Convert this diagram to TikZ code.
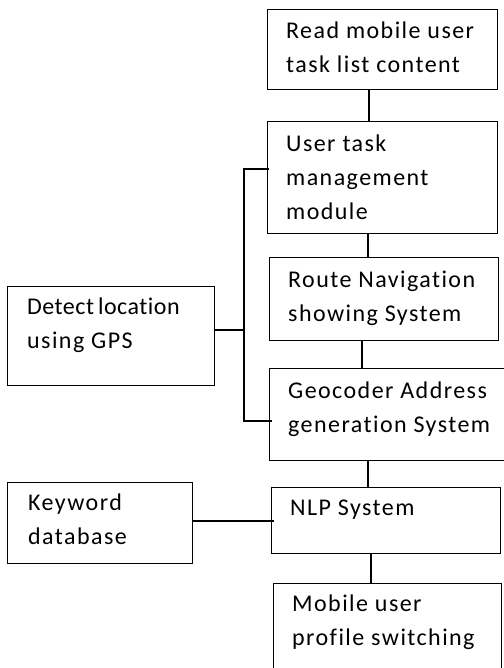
\documentclass[tikz,border=0pt]{standalone}
\usepackage{fontspec}
\setmainfont{Carlito}[LetterSpace=6,Ligatures={NoCommon}]
\usetikzlibrary{calc}
\begin{document}
\begin{tikzpicture}[x=1pt,y=-1pt,
  box/.style={draw=black,line width=1.4pt,rectangle,inner sep=0pt,anchor=north west},
  txt/.style={anchor=north west,inner sep=0pt,align=left,font=\fontsize{24}{34}\selectfont,text=black},
  link/.style={draw=black,line width=1.4pt}]
\useasboundingbox[fill=white] (0,0) rectangle (503,668);
% boxes
\node[box,minimum width=230,minimum height=80] (b1) at (267,9) {};
\node[box,minimum width=230,minimum height=112] (b2) at (267,121) {};
\node[box,minimum width=229,minimum height=83] (b3) at (269,257) {};
\node[box,minimum width=245,minimum height=92] (b4) at (269,368) {};
\node[box,minimum width=229,minimum height=66] (b5) at (271,487) {};
\node[box,minimum width=228,minimum height=100] (b6) at (273,583) {};
\node[box,minimum width=207,minimum height=99] (gps) at (7,286) {};
\node[box,minimum width=185,minimum height=81] (kw) at (7,482) {};
% texts
\node[txt] (t1) at (286,15) {\strut Read mobile user\\task list content};
\node[txt] (t2) at (286,127) {\strut User task\\management\\module};
\node[txt] (t3) at (288,263) {\strut Route Navigation\\showing System};
\node[txt] (t4) at (288,374) {\strut Geocoder Address\\generation System};
\node[txt] (t5) at (290,491) {\strut NLP System};
\node[txt] (t6) at (292,587) {\strut Mobile user\\profile switching};
\node[txt] (tg) at (27,290) {\strut{\addfontfeature{LetterSpace=2}Detect\,location}\\using GPS};
\node[txt] (tk) at (28,486) {\strut Keyword\\database};
% vertical chain
\draw[link] ($(b1.south west)+(102,0)$) coordinate (c1) -- (c1 |- b2.north);
\draw[link] ($(b2.south west)+(101,0)$) coordinate (c2) -- (c2 |- b3.north);
\draw[link] ($(b3.south west)+(93,0)$) coordinate (c3) -- (c3 |- b4.north);
\draw[link] ($(b4.south west)+(99,0)$) coordinate (c4) -- (c4 |- b5.north);
\draw[link] ($(b5.south west)+(100,0)$) coordinate (c5) -- (c5 |- b6.north);
% GPS bus
\coordinate (bt) at (244,169);
\coordinate (bb) at (244,421);
\draw[link] ($(b2.west |- bt)+(2,0)$) -- (bt) -- (bb) -- ($(b4.west |- bb)+(3,0)$);
\draw[link] (gps.east |- 0,330) -- (bt |- 0,330);
% keyword link
\draw[link] (kw.east |- 0,521) -- ($(b5.west |- 0,521)+(3,0)$);
\end{tikzpicture}
\end{document}
